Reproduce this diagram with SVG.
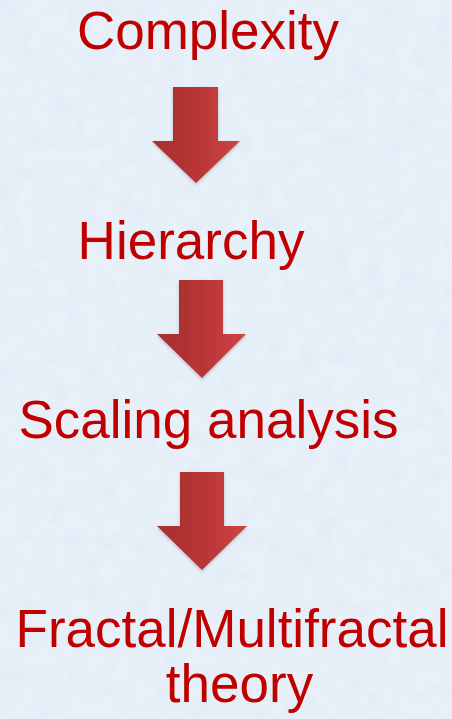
<svg xmlns="http://www.w3.org/2000/svg" width="452" height="719" viewBox="0 0 452 719">
  <defs>
    <style>
      .label { font-family: "Liberation Sans", Arial, sans-serif; font-size: 53px; fill: #C00000; text-anchor: middle; }
      .arrow { fill: url(#arrowFill); filter: url(#shadow); }
    </style>
    <linearGradient id="arrowFill" x1="0" y1="0" x2="1" y2="0">
      <stop offset="0" stop-color="#A52F2F"/>
      <stop offset="0.5" stop-color="#B83535"/>
      <stop offset="1" stop-color="#D04343"/>
    </linearGradient>
    <filter id="shadow" x="-20%" y="-20%" width="140%" height="140%">
      <feDropShadow dx="0" dy="1.5" stdDeviation="1.5" flood-color="#5a6070" flood-opacity="0.35"/>
    </filter>
    <filter id="paper" x="0" y="0" width="100%" height="100%">
      <feTurbulence type="fractalNoise" baseFrequency="0.06" numOctaves="3" seed="4" result="n"/>
      <feColorMatrix in="n" type="matrix" values="0 0 0 0 1  0 0 0 0 1  0 0 0 0 1  0 0 0 0.35 -0.08"/>
    </filter>
  </defs>

  <!-- background -->
  <rect width="452" height="719" fill="#E4EDF7"/>
  <rect width="452" height="719" filter="url(#paper)"/>

  <g id="complexity">
    <text class="label" x="208" y="49">Complexity</text>
  </g>
  <g id="hierarchy">
    <text class="label" x="191" y="259">Hierarchy</text>
  </g>
  <g id="scaling">
    <text class="label" x="208.5" y="438">Scaling analysis</text>
  </g>
  <g id="fractal">
    <text class="label" x="232" y="647">Fractal/Multifractal</text>
    <text class="label" x="239.5" y="702">theory</text>
  </g>

  <g id="connectors">
    <polygon class="arrow" points="173,87 218,87 218,141 240,141 196,183 152,141 173,141"/>
    <polygon class="arrow" points="179,280 223,280 223,334 246,334 202,378 157,334 179,334"/>
    <polygon class="arrow" points="180,472 224,472 224,526 247,526 202,570 157,526 180,526"/>
  </g>
</svg>
